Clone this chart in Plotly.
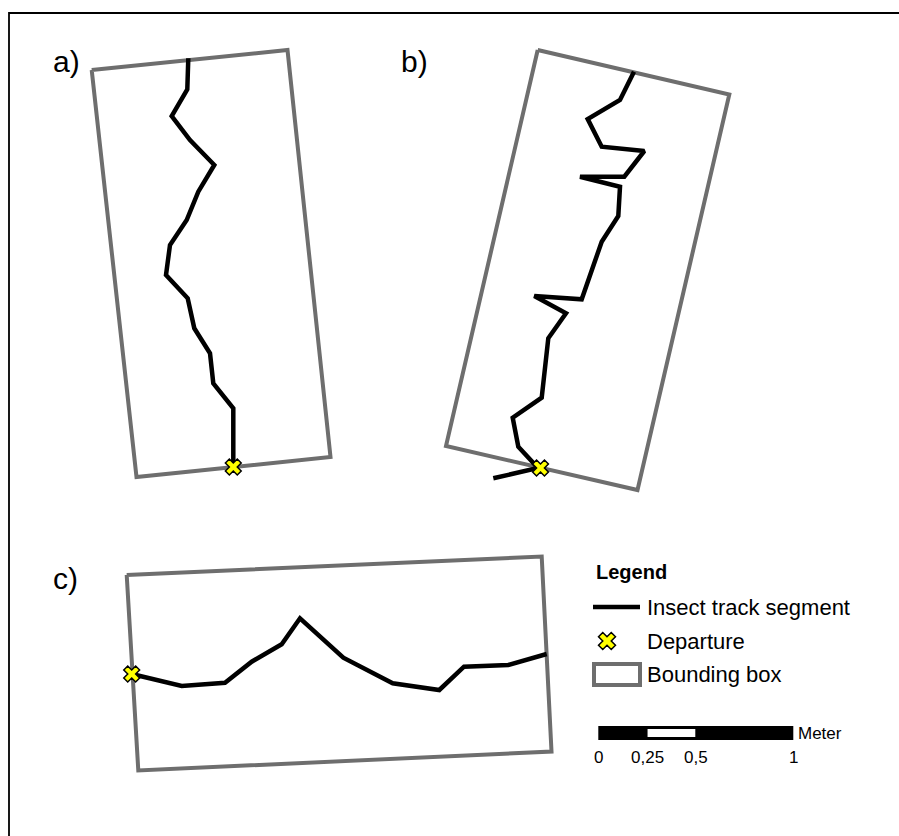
import plotly.graph_objects as go

# Track coordinates (page pixel space, y downward)
track_a_x = [188.3, 187.3, 171.7, 190.0, 214.3, 198.3, 186.7, 170.0, 166.0, 187.7, 194.3, 210.0, 213.3, 233.3, 233.3]
track_a_y = [58.3, 89.3, 116.0, 140.0, 165.0, 191.7, 220.0, 245.0, 275.0, 298.3, 328.3, 353.3, 383.3, 408.3, 466.0]

track_b_x = [634.0, 620.0, 587.7, 601.7, 644.3, 624.3, 580.0, 620.0, 618.3, 601.7, 581.7, 534.3, 566.0, 548.3, 541.7, 512.7, 518.3, 538.0, 493.3]
track_b_y = [71.7, 100.0, 119.0, 146.7, 151.0, 176.7, 176.7, 186.7, 216.0, 241.7, 299.3, 296.0, 313.3, 338.3, 397.7, 417.7, 446.7, 468.0, 478.3]

track_c_x = [131.7, 181.7, 225.0, 251.7, 281.7, 300.0, 343.3, 392.7, 439.3, 464.0, 508.3, 546.7]
track_c_y = [674.0, 686.0, 682.7, 661.7, 644.3, 618.3, 657.7, 683.3, 690.0, 666.7, 665.0, 654.0]

# Bounding boxes (closed polygons)
box_a_x = [91.7, 287.5, 330.5, 136.5, 91.7]
box_a_y = [70.0, 50.0, 457.0, 477.0, 70.0]
box_b_x = [537.7, 729.3, 637.5, 446.0, 537.7]
box_b_y = [50.0, 94.5, 490.0, 446.0, 50.0]
box_c_x = [126.7, 541.7, 551.5, 138.3, 126.7]
box_c_y = [575.0, 556.5, 751.5, 770.5, 575.0]

# Departures
dep_x = [233.3, 540.5, 131.7]
dep_y = [467.0, 468.0, 674.0]

# Panel labels
panel_labels = ["a)", "b)", "c)"]
panel_lx = [51, 399, 51]
panel_ly = [61, 61, 578]

# Legend
legend_title = "Legend"
legend_items = ["Insect track segment", "Departure", "Bounding box"]
legend_item_y = [607, 641, 674]

# Scale bar
scale_ticks = [0, 0.25, 0.5, 1]
scale_tick_labels = ["0", "0,25", "0,5", "1"]
scale_unit = "Meter"
scale_x0, scale_px_per_m = 598.3, 195.0

TRACK_COLOR = "black"
BOX_COLOR = "#6e6e6e"
DEP_COLOR = "#ffff00"
FONT = "Liberation Sans, Arial, sans-serif"

fig = go.Figure()

for bx, by in [(box_a_x, box_a_y), (box_b_x, box_b_y), (box_c_x, box_c_y)]:
    fig.add_trace(go.Scatter(x=bx, y=by, mode="lines",
                             line=dict(color=BOX_COLOR, width=4), hoverinfo="skip"))

for tx, ty in [(track_a_x, track_a_y), (track_b_x, track_b_y), (track_c_x, track_c_y)]:
    fig.add_trace(go.Scatter(x=tx, y=ty, mode="lines",
                             line=dict(color=TRACK_COLOR, width=4.5), hoverinfo="skip"))

fig.add_trace(go.Scatter(x=dep_x, y=dep_y, mode="markers",
                         marker=dict(symbol="x", size=14, color=DEP_COLOR,
                                     line=dict(color="black", width=1.5)),
                         hoverinfo="skip"))

# Legend sample glyphs
fig.add_trace(go.Scatter(x=[593, 640], y=[legend_item_y[0], legend_item_y[0]], mode="lines",
                         line=dict(color=TRACK_COLOR, width=4.5), hoverinfo="skip"))
fig.add_trace(go.Scatter(x=[607], y=[legend_item_y[1]], mode="markers",
                         marker=dict(symbol="x", size=15, color=DEP_COLOR,
                                     line=dict(color="black", width=1.5)),
                         hoverinfo="skip"))

shapes = []
# outer frame
shapes.append(dict(type="rect", xref="x", yref="y", x0=9, y0=13, x1=920, y1=860,
                   line=dict(color="black", width=1.8), fillcolor="rgba(0,0,0,0)", layer="below"))
# legend bounding box sample
shapes.append(dict(type="rect", xref="x", yref="y", x0=594, y0=664, x1=640, y1=685,
                   line=dict(color=BOX_COLOR, width=4), fillcolor="white"))
# scale bar
bar_y0, bar_y1 = 726, 740
x_end = scale_x0 + scale_px_per_m * scale_ticks[-1]
shapes.append(dict(type="rect", xref="x", yref="y", x0=scale_x0, y0=bar_y0, x1=x_end, y1=bar_y1,
                   line=dict(width=0), fillcolor="black"))
shapes.append(dict(type="rect", xref="x", yref="y",
                   x0=scale_x0 + scale_px_per_m * scale_ticks[1] + 0.5, y0=bar_y0 + 3,
                   x1=scale_x0 + scale_px_per_m * scale_ticks[2] - 0.5, y1=bar_y1 - 3,
                   line=dict(width=0), fillcolor="white"))

annotations = []
for t, x, y in zip(panel_labels, panel_lx, panel_ly):
    annotations.append(dict(x=x, y=y, text=t, showarrow=False, xanchor="left", yanchor="middle",
                            font=dict(family=FONT, size=30, color="black")))
annotations.append(dict(x=594, y=572, text="<b>" + legend_title + "</b>", showarrow=False,
                        xanchor="left", yanchor="middle", font=dict(family=FONT, size=20, color="black")))
for t, y in zip(legend_items, legend_item_y):
    annotations.append(dict(x=645, y=y, text=t, showarrow=False, xanchor="left", yanchor="middle",
                            font=dict(family=FONT, size=22, color="black")))
for v, t in zip(scale_ticks, scale_tick_labels):
    annotations.append(dict(x=scale_x0 + scale_px_per_m * v, y=757, text=t, showarrow=False,
                            xanchor="center", yanchor="middle",
                            font=dict(family=FONT, size=17, color="black")))
annotations.append(dict(x=x_end + 3, y=733, text=scale_unit, showarrow=False, xanchor="left",
                        yanchor="middle", font=dict(family=FONT, size=17, color="black")))

fig.update_layout(
    width=899, height=836, autosize=False,
    margin=dict(l=0, r=0, t=0, b=0, pad=0),
    paper_bgcolor="white", plot_bgcolor="white",
    showlegend=False,
    shapes=shapes, annotations=annotations,
    xaxis=dict(range=[0, 899], visible=False, fixedrange=True),
    yaxis=dict(range=[836, 0], visible=False, fixedrange=True),
)

fig.write_html("out.html", config={"displayModeBar": False})
